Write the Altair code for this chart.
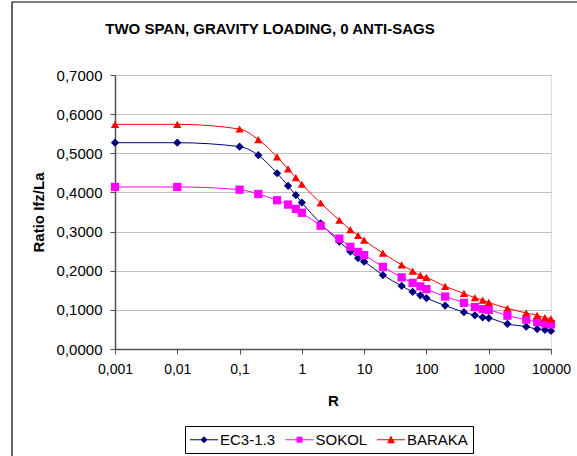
import altair as alt
import pandas as pd

R = [0.001, 0.01, 0.1, 0.2, 0.4, 0.6, 0.8, 1, 2, 4, 6, 8, 10, 20, 40, 60, 80, 100,
     200, 400, 600, 800, 1000, 2000, 4000, 6000, 8000, 10000]
ec3 = [0.527, 0.527, 0.517, 0.495, 0.449, 0.417, 0.393, 0.374, 0.321, 0.274, 0.249,
       0.232, 0.223, 0.189, 0.161, 0.146, 0.137, 0.130, 0.111, 0.094, 0.086, 0.081,
       0.079, 0.064, 0.057, 0.051, 0.049, 0.046]
sokol = [0.414, 0.414, 0.407, 0.396, 0.380, 0.369, 0.358, 0.348, 0.315, 0.282, 0.261,
         0.248, 0.240, 0.210, 0.183, 0.169, 0.160, 0.153, 0.134, 0.118, 0.107, 0.102,
         0.100, 0.085, 0.075, 0.069, 0.065, 0.063]
baraka = [0.574, 0.574, 0.562, 0.535, 0.491, 0.460, 0.438, 0.421, 0.373, 0.329, 0.305,
          0.290, 0.278, 0.245, 0.215, 0.199, 0.188, 0.183, 0.160, 0.142, 0.131, 0.125,
          0.119, 0.104, 0.092, 0.086, 0.080, 0.077]

title_text = "TWO SPAN, GRAVITY LOADING, 0 ANTI-SAGS"
series_names = ["EC3-1.3", "SOKOL", "BARAKA"]
series_colors = ["#000080", "#FF00FF", "#FF0000"]
series_shapes = ["diamond", "square", "triangle-up"]
# legend glyphs: a line with the series marker on it (unit = half symbol size)
legend_shapes = [
    "M-1,-0.06H2.3V0.06H-1Z M0.65,-0.42L1.07,0L0.65,0.42L0.23,0Z",
    "M-1,-0.06H2.3V0.06H-1Z M0.3,-0.36H1V0.36H0.3Z",
    "M-1,-0.06H2.3V0.06H-1Z M0.65,-0.5L1.12,0.4L0.18,0.4Z",
]
x_ticks = [0.001, 0.01, 0.1, 1, 10, 100, 1000, 10000]
y_ticks = [0.0, 0.1, 0.2, 0.3, 0.4, 0.5, 0.6, 0.7]

rows = []
for name, vals in zip(series_names, [ec3, sokol, baraka]):
    for r, v in zip(R, vals):
        rows.append({"R": r, "ratio": v, "series": name})
df = pd.DataFrame(rows)

FONT = "Liberation Sans"

x_enc = alt.X(
    "R:Q",
    scale=alt.Scale(type="log", domain=[0.001, 10000], nice=False),
    axis=alt.Axis(
        values=x_ticks, labelExpr="replace(toString(datum.value), '.', ',')",
        grid=False, title="R", titleFont=FONT, titleFontSize=15, titleFontWeight="bold",
        titleColor="black", titleX=218, titleY=51, titleBaseline="middle",
        labelFont=FONT, labelFontSize=14, labelColor="black", labelPadding=8,
        tickSize=5, tickColor="#505050", domainColor="#505050", domainWidth=1.5,
        labelFlush=False, labelOverlap=False,
    ),
)
y_enc = alt.Y(
    "ratio:Q",
    scale=alt.Scale(domain=[0, 0.7], nice=False),
    axis=alt.Axis(
        values=y_ticks, labelExpr="replace(format(datum.value, '.4f'), '.', ',')",
        grid=True, gridColor="#c0c0c0", gridWidth=1,
        title="Ratio Ifz/La", titleFont=FONT, titleFontSize=15, titleFontWeight="bold",
        titleColor="black", titleX=-77, titleY=137, titleBaseline="middle",
        labelFont=FONT, labelFontSize=15, labelColor="black", labelPadding=8,
        tickSize=5, tickColor="#505050", domainColor="#505050", domainWidth=1.5,
    ),
)
color_scale = alt.Scale(domain=series_names, range=series_colors)

lines = alt.Chart(df).mark_line(strokeWidth=1, interpolate="monotone").encode(
    x=x_enc, y=y_enc,
    color=alt.Color("series:N", scale=color_scale, legend=None),
    detail="series:N",
)

points = alt.Chart(df).mark_point(filled=True, opacity=1, size=68).encode(
    x=x_enc, y=y_enc,
    color=alt.Color("series:N", scale=color_scale, legend=None),
    shape=alt.Shape("series:N", scale=alt.Scale(domain=series_names, range=series_shapes),
                    legend=None),
)

legend_cfg = dict(
    title=None, orient="none", legendX=70, legendY=351, direction="horizontal",
    columns=3, labelFont=FONT, labelFontSize=15, labelColor="black",
    symbolSize=289, symbolStrokeWidth=0, symbolOpacity=1, labelOffset=13,
    columnPadding=9.5, padding=5, strokeColor="black", fillColor="white",
)

legend_layer = alt.Chart(df).mark_point(filled=True, size=0, strokeWidth=0).encode(
    x=x_enc, y=y_enc,
    color=alt.Color("series:N", scale=color_scale, legend=alt.Legend(**legend_cfg)),
    shape=alt.Shape("series:N", scale=alt.Scale(domain=series_names, range=legend_shapes),
                    legend=alt.Legend(**legend_cfg)),
)

one_row = pd.DataFrame({"title": [title_text]})
title_mark = alt.Chart(one_row).mark_text(
    font=FONT, fontSize=15, fontWeight="bold", color="black", baseline="alphabetic",
    align="center",
).encode(text="title:N", x=alt.value(155), y=alt.value(-41.5))

frame_left = alt.Chart(one_row).mark_rule(color="black", strokeWidth=1.2).encode(
    x=alt.value(-103), y=alt.value(-73), y2=alt.value(390)
)
frame_top = alt.Chart(one_row).mark_rule(color="black", strokeWidth=1.2).encode(
    x=alt.value(-103), x2=alt.value(470), y=alt.value(-73)
)

chart = alt.layer(lines, points, legend_layer, title_mark, frame_left, frame_top).resolve_scale(
    shape="independent", color="independent"
).properties(
    width=436, height=274,
    padding={"left": 115, "top": 75, "right": 26, "bottom": 107},
    autosize=alt.AutoSizeParams(type="none"),
).configure_view(stroke="#a0a0a0", strokeWidth=1.5).configure(background="white")

chart.save("out.html", embed_options={"renderer": "svg", "actions": False})
